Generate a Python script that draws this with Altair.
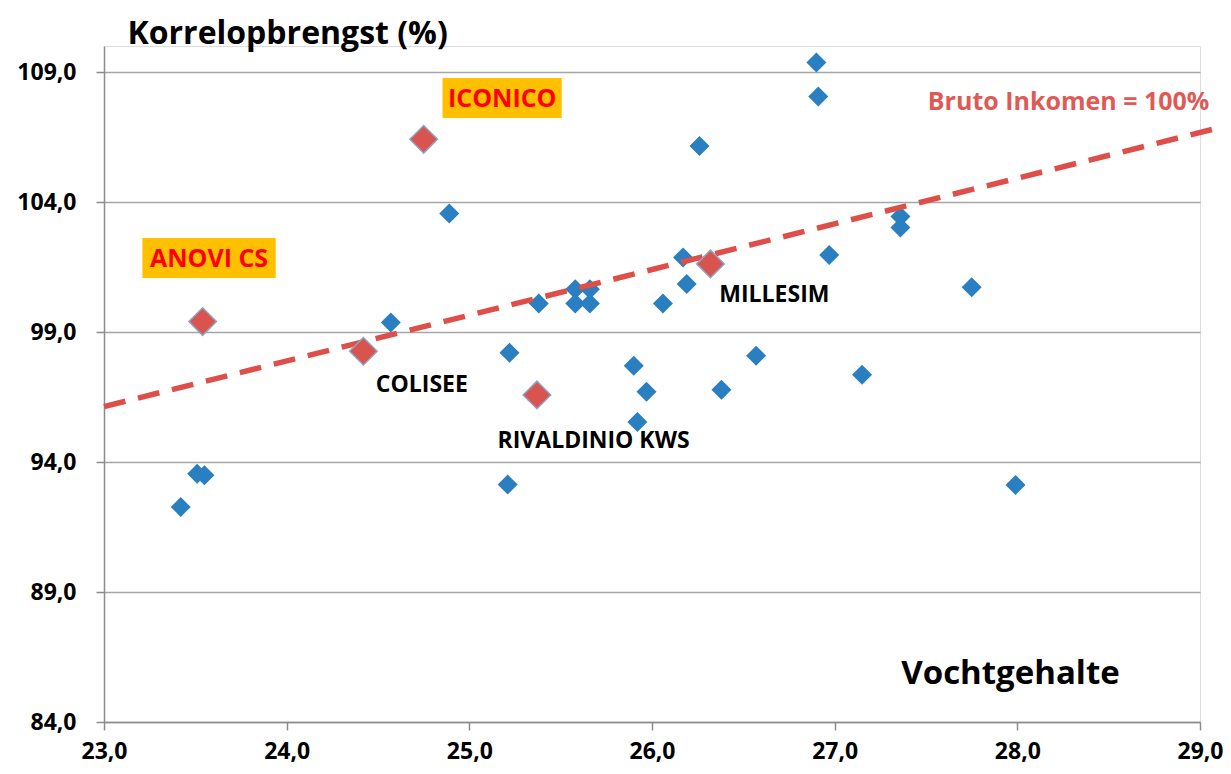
import altair as alt
import pandas as pd

# Blue points (other varieties)
blue_x = [23.42, 23.51, 23.55, 24.57, 24.89, 25.21, 25.22, 25.38, 25.58, 25.58, 25.66, 25.66,
          25.90, 25.92, 25.97, 26.06, 26.17, 26.19, 26.26, 26.38, 26.57, 26.90, 26.91, 26.97,
          27.15, 27.36, 27.36, 27.75, 27.99]
blue_y = [92.27, 93.55, 93.49, 99.37, 103.56, 93.13, 98.20, 100.10, 100.64, 100.10, 100.64, 100.10,
          97.70, 95.54, 96.70, 100.10, 101.87, 100.85, 106.15, 96.78, 98.09, 109.37, 108.06, 101.96,
          97.36, 103.44, 103.02, 100.72, 93.12]

# Highlighted varieties
red_name = ["ANOVI CS", "COLISEE", "ICONICO", "RIVALDINIO KWS", "MILLESIM"]
red_x = [23.54, 24.42, 24.75, 25.37, 26.32]
red_y = [99.40, 98.26, 106.41, 96.58, 101.62]

# Break-even line (Bruto Inkomen = 100%)
line_x = [23.0, 29.1]
line_y = [96.13, 106.85]

# Annotation labels
lab_text = ["COLISEE", "MILLESIM", "RIVALDINIO KWS"]
lab_x = [24.74, 26.67, 25.68]
lab_y = [96.96, 100.42, 94.81]

box_text = ["ICONICO", "ANOVI CS"]
box_x = [24.853, 23.21]
box_x2 = [25.506, 23.94]
box_y = [108.77, 102.62]
box_y2 = [107.23, 101.08]
box_tx = [25.18, 23.575]
box_ty = [107.97, 101.82]

note_text = ["Bruto Inkomen = 100%"]
note_x = [27.51]
note_y = [107.83]

x_ticks = [23, 24, 25, 26, 27, 28, 29]
y_ticks = [84, 89, 94, 99, 104, 109]

FONT = "Open Sans"

blue_df = pd.DataFrame({"x": blue_x, "y": blue_y})
red_df = pd.DataFrame({"x": red_x, "y": red_y, "name": red_name})
line_df = pd.DataFrame({"x": line_x, "y": line_y})
lab_df = pd.DataFrame({"x": lab_x, "y": lab_y, "t": lab_text})
box_df = pd.DataFrame({"x": box_x, "x2": box_x2, "y": box_y, "y2": box_y2,
                       "tx": box_tx, "ty": box_ty, "t": box_text})
note_df = pd.DataFrame({"x": note_x, "y": note_y, "t": note_text})

xs = alt.Scale(domain=[23, 29], nice=False, zero=False)
ys = alt.Scale(domain=[84, 110], nice=False, zero=False)

label_expr = "replace(format(datum.value, '.1f'), '.', ',')"

x_axis = alt.Axis(values=x_ticks, labelExpr=label_expr, grid=False, title="Vochtgehalte",
                  titleX=906, titleY=-39, titleAlign="center", titleBaseline="alphabetic",
                  titleFontSize=33, titleFont=FONT, titleFontWeight="bold", titleColor="#000000",
                  labelFont=FONT, labelFontSize=23, labelFontWeight="bold", labelColor="#000000",
                  labelPadding=10, tickSize=8, tickColor="#8c8c8c", domainColor="#8c8c8c",
                  domainWidth=1.5, tickWidth=1.5, labelFlush=False)
y_axis = alt.Axis(values=y_ticks, labelExpr=label_expr, grid=True, gridColor="#a6a6a6",
                  gridWidth=1.5, title="Korrelopbrengst (%)", titleAngle=0,
                  titleX=23, titleY=-3, titleAlign="left", titleBaseline="alphabetic",
                  titleFontSize=32, titleFont=FONT, titleFontWeight="bold", titleColor="#000000",
                  labelFont=FONT, labelFontSize=23, labelFontWeight="bold", labelColor="#000000",
                  labelPadding=20, tickSize=8, tickColor="#8c8c8c", domainColor="#8c8c8c",
                  domainWidth=1.5, tickWidth=1.5, labelFlush=False)

blue = alt.Chart(blue_df).mark_point(shape="diamond", filled=True, size=400,
                                     color="#2a7fc0", opacity=1).encode(
    x=alt.X("x:Q", scale=xs, axis=x_axis),
    y=alt.Y("y:Q", scale=ys, axis=y_axis),
)

line = alt.Chart(line_df).mark_line(color="#de4f4a", strokeWidth=5.5,
                                    strokeDash=[22, 13]).encode(
    x=alt.X("x:Q", scale=xs), y=alt.Y("y:Q", scale=ys))

red = alt.Chart(red_df).mark_point(shape="diamond", filled=True, size=760,
                                   fill="#d9534f", stroke="#8ea3c4", strokeWidth=1.5,
                                   opacity=1).encode(
    x=alt.X("x:Q", scale=xs), y=alt.Y("y:Q", scale=ys))

boxes = alt.Chart(box_df).mark_rect(color="#ffc000").encode(
    x=alt.X("x:Q", scale=xs), x2="x2:Q", y=alt.Y("y:Q", scale=ys), y2="y2:Q")

box_text_layer = alt.Chart(box_df).mark_text(font=FONT, fontSize=25, fontWeight="bold",
                                             color="#ff0000", align="center",
                                             baseline="middle").encode(
    x=alt.X("tx:Q", scale=xs), y=alt.Y("ty:Q", scale=ys), text="t:N")

labels = alt.Chart(lab_df).mark_text(font=FONT, fontSize=23, fontWeight="bold",
                                     color="#000000", align="center",
                                     baseline="middle").encode(
    x=alt.X("x:Q", scale=xs), y=alt.Y("y:Q", scale=ys), text="t:N")

note = alt.Chart(note_df).mark_text(font=FONT, fontSize=25, fontWeight="bold",
                                    color="#df5a55", align="left",
                                    baseline="middle").encode(
    x=alt.X("x:Q", scale=xs), y=alt.Y("y:Q", scale=ys), text="t:N")

chart = alt.layer(blue, line, red, boxes, box_text_layer, labels, note).properties(
    width=1096, height=676,
    autosize=alt.AutoSizeParams(type="none"),
    padding={"left": 96, "top": 38, "right": 23, "bottom": 44},
).configure_view(stroke=None).configure(background="#ffffff")

chart.save("out.html", embed_options={"renderer": "svg", "actions": False})
